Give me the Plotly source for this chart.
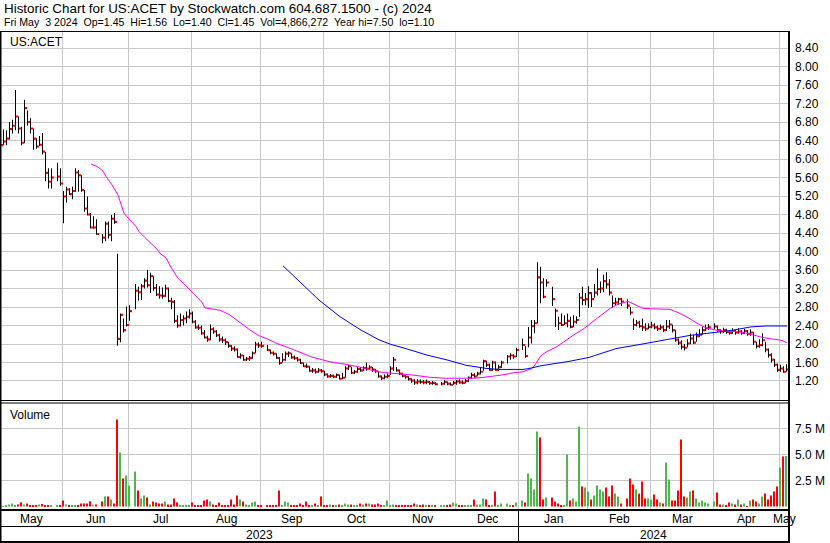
import pandas as pd
import plotly.graph_objects as go

# ---------------- calendar (weekday slots; holidays leave an empty slot) ----------------
weekdays = pd.bdate_range("2023-05-03", "2024-05-03")
holidays = ["2023-05-29", "2023-06-19", "2023-07-04", "2023-09-04", "2023-11-23",
            "2023-12-25", "2024-01-01", "2024-01-15", "2024-02-19", "2024-03-29"]
hol = set(pd.to_datetime(holidays))
trade_days = [d for d in weekdays if d not in hol]
slot = {d: i for i, d in enumerate(weekdays)}

# ---------------- daily data ----------------
high = [
    # May 2023
    6.66, 6.64, 6.62, 6.80, 6.85, 7.49, 6.92, 6.70, 7.28, 7.05, 6.88, 6.66, 6.45, 6.50, 6.56, 6.15, 5.80, 5.80, 5.92, 5.80,
    # Jun
    5.31, 5.40, 5.37, 5.40, 5.80, 5.76, 5.65, 5.33, 5.19, 4.83, 4.76, 4.70, 4.38, 4.65, 4.65, 4.79, 4.83, 3.95, 2.66, 2.55, 2.81,
    # Jul
    2.84, 3.30, 3.24, 3.30, 3.42, 3.60, 3.54, 3.47, 3.30, 3.25, 3.22, 3.28, 3.22, 3.00, 2.95, 2.62, 2.66, 2.62, 2.70, 2.75,
    # Aug
    2.70, 2.52, 2.42, 2.40, 2.30, 2.18, 2.42, 2.36, 2.30, 2.22, 2.16, 2.12, 2.05, 1.98, 1.95, 1.90, 1.80, 1.76, 1.72, 1.74, 1.84, 2.05, 2.03,
    # Sep
    2.05, 1.98, 1.88, 1.84, 1.80, 1.72, 1.80, 1.84, 1.84, 1.80, 1.75, 1.72, 1.68, 1.60, 1.58, 1.52, 1.48, 1.47, 1.48, 1.46,
    # Oct
    1.42, 1.36, 1.35, 1.34, 1.36, 1.34, 1.38, 1.52, 1.55, 1.50, 1.44, 1.50, 1.50, 1.52, 1.60, 1.54, 1.50, 1.46, 1.40, 1.32, 1.34, 1.36,
    # Nov
    1.52, 1.72, 1.50, 1.45, 1.38, 1.34, 1.30, 1.26, 1.24, 1.24, 1.23, 1.22, 1.23, 1.20, 1.20, 1.18, 1.18, 1.22, 1.19, 1.17, 1.20,
    # Dec
    1.22, 1.24, 1.21, 1.24, 1.30, 1.38, 1.37, 1.40, 1.48, 1.66, 1.64, 1.58, 1.64, 1.62, 1.55, 1.64, 1.76, 1.80, 1.78, 1.92,
    # Jan 2024
    2.12, 1.95, 2.37, 2.52, 2.52, 3.77, 3.67, 3.42, 3.40, 3.24, 2.77, 2.59, 2.66, 2.62, 2.66, 2.59, 2.62, 2.60, 3.10, 3.24, 3.10,
    # Feb
    3.25, 3.12, 3.30, 3.64, 3.35, 3.50, 3.55, 3.40, 3.05, 3.00, 3.00, 3.00, 2.97, 2.80, 2.55, 2.52, 2.50, 2.55, 2.45, 2.45,
    # Mar
    2.48, 2.45, 2.40, 2.42, 2.40, 2.52, 2.52, 2.42, 2.30, 2.12, 2.08, 2.00, 2.10, 2.22, 2.20, 2.25, 2.32, 2.38, 2.42, 2.43,
    # Apr
    2.45, 2.40, 2.32, 2.35, 2.33, 2.30, 2.34, 2.31, 2.34, 2.30, 2.33, 2.30, 2.32, 2.26, 2.05, 2.10, 2.23, 2.05, 1.90, 1.80, 1.68, 1.58,
    # May 2024
    1.55, 1.52, 1.56,
]
low = [
    6.19, 6.30, 6.30, 6.42, 6.55, 6.62, 6.55, 6.30, 6.34, 6.72, 6.55, 6.20, 6.22, 6.28, 6.10, 5.52, 5.36, 5.36, 5.52, 5.42,
    4.61, 5.06, 5.22, 5.13, 5.29, 5.29, 5.29, 4.86, 4.78, 4.50, 4.49, 4.36, 4.18, 4.22, 4.28, 4.22, 4.60, 1.96, 2.04, 2.25, 2.38,
    2.50, 2.75, 2.94, 2.95, 3.20, 3.22, 3.10, 3.15, 3.04, 2.98, 2.98, 3.02, 2.90, 2.75, 2.45, 2.35, 2.38, 2.40, 2.45, 2.55,
    2.45, 2.33, 2.30, 2.20, 2.12, 2.05, 2.08, 2.22, 2.15, 2.05, 2.02, 1.98, 1.92, 1.85, 1.84, 1.70, 1.68, 1.64, 1.63, 1.64, 1.68, 1.80, 1.92,
    1.92, 1.85, 1.78, 1.75, 1.68, 1.55, 1.60, 1.64, 1.72, 1.68, 1.66, 1.62, 1.57, 1.50, 1.48, 1.40, 1.38, 1.36, 1.38, 1.38,
    1.30, 1.27, 1.27, 1.26, 1.27, 1.23, 1.24, 1.27, 1.44, 1.35, 1.35, 1.38, 1.40, 1.42, 1.42, 1.44, 1.40, 1.38, 1.27, 1.22, 1.24, 1.26,
    1.33, 1.42, 1.40, 1.33, 1.28, 1.25, 1.21, 1.16, 1.12, 1.13, 1.14, 1.13, 1.13, 1.12, 1.12, 1.11, 1.11, 1.12, 1.11, 1.10, 1.12,
    1.12, 1.14, 1.13, 1.15, 1.18, 1.25, 1.27, 1.30, 1.34, 1.42, 1.50, 1.42, 1.42, 1.42, 1.41, 1.48, 1.58, 1.66, 1.68, 1.72,
    1.87, 1.70, 1.93, 2.01, 2.23, 2.45, 2.88, 2.99, 3.24, 2.82, 2.37, 2.30, 2.39, 2.41, 2.36, 2.34, 2.37, 2.44, 2.59, 2.84, 2.84,
    2.78, 2.80, 3.00, 3.05, 3.10, 3.12, 3.20, 3.05, 2.78, 2.82, 2.85, 2.82, 2.76, 2.62, 2.30, 2.38, 2.35, 2.28, 2.28, 2.32,
    2.34, 2.32, 2.28, 2.30, 2.26, 2.28, 2.33, 2.25, 2.05, 1.98, 1.88, 1.86, 1.93, 2.00, 2.00, 2.05, 2.15, 2.20, 2.28, 2.30,
    2.32, 2.25, 2.22, 2.24, 2.22, 2.20, 2.22, 2.20, 2.22, 2.20, 2.22, 2.18, 2.18, 1.98, 1.90, 1.92, 1.95, 1.82, 1.70, 1.60, 1.50, 1.40,
    1.40, 1.38, 1.40,
]
close = [
    6.30, 6.38, 6.44, 6.65, 6.72, 6.92, 6.66, 6.35, 7.10, 6.80, 6.66, 6.44, 6.27, 6.31, 6.16, 5.70, 5.51, 5.60, 5.62, 5.47,
    5.19, 5.34, 5.24, 5.31, 5.71, 5.65, 5.33, 4.93, 4.80, 4.52, 4.52, 4.38, 4.30, 4.60, 4.36, 4.71, 4.64, 2.11, 2.63, 2.30, 2.41,
    2.71, 3.15, 3.12, 3.25, 3.37, 3.27, 3.47, 3.21, 3.07, 3.05, 3.04, 3.20, 2.93, 2.91, 2.50, 2.40, 2.52, 2.55, 2.59, 2.66,
    2.48, 2.36, 2.35, 2.23, 2.14, 2.10, 2.32, 2.27, 2.19, 2.10, 2.08, 2.04, 1.96, 1.90, 1.88, 1.72, 1.75, 1.66, 1.68, 1.70, 1.80, 1.99, 1.97,
    1.96, 1.87, 1.81, 1.79, 1.70, 1.59, 1.66, 1.79, 1.80, 1.71, 1.69, 1.66, 1.59, 1.52, 1.51, 1.42, 1.43, 1.40, 1.43, 1.41,
    1.34, 1.30, 1.31, 1.29, 1.33, 1.25, 1.27, 1.47, 1.52, 1.38, 1.40, 1.46, 1.43, 1.48, 1.47, 1.49, 1.45, 1.41, 1.30, 1.26, 1.29, 1.31,
    1.47, 1.66, 1.43, 1.36, 1.31, 1.29, 1.24, 1.21, 1.17, 1.19, 1.18, 1.17, 1.18, 1.15, 1.16, 1.13, 1.14, 1.18, 1.14, 1.12, 1.16,
    1.19, 1.17, 1.16, 1.20, 1.27, 1.33, 1.30, 1.36, 1.40, 1.63, 1.55, 1.44, 1.60, 1.44, 1.50, 1.60, 1.73, 1.75, 1.73, 1.87,
    1.98, 1.74, 2.14, 2.39, 2.45, 3.44, 3.33, 3.02, 3.33, 2.97, 2.72, 2.45, 2.41, 2.45, 2.50, 2.37, 2.48, 2.52, 3.00, 2.95, 2.97,
    3.10, 2.97, 3.11, 3.19, 3.20, 3.36, 3.29, 3.11, 2.88, 2.90, 2.97, 2.92, 2.83, 2.68, 2.41, 2.46, 2.39, 2.36, 2.33, 2.37,
    2.40, 2.36, 2.33, 2.36, 2.30, 2.38, 2.42, 2.30, 2.09, 2.03, 1.94, 1.92, 2.01, 2.12, 2.03, 2.17, 2.20, 2.30, 2.34, 2.36,
    2.38, 2.30, 2.27, 2.30, 2.26, 2.24, 2.28, 2.25, 2.27, 2.24, 2.28, 2.22, 2.25, 2.05, 1.95, 1.98, 2.08, 1.88, 1.76, 1.66, 1.55, 1.44,
    1.47, 1.40, 1.45,
]
volume_m = [
    0.03, 0.04, 0.10, 0.20, 0.30, 0.06, 0.20, 0.40, 0.20, 0.30, 0.05, 0.10, 0.10, 0.20, 0.25, 0.10, 0.10, 0.10, 0.10, 0.05,
    0.58, 0.20, 0.10, 0.10, 0.05, 0.10, 0.30, 0.30, 0.30, 0.50, 0.20, 0.20, 0.48, 0.96, 0.96, 0.67, 0.29, 8.37, 5.19, 2.69, 2.98,
    2.02, 3.37, 1.54, 0.77, 1.06, 0.87, 0.19, 0.48, 0.38, 0.29, 0.29, 0.48, 0.19, 0.19, 0.77, 0.38, 0.10, 0.10, 0.10, 0.10,
    0.38, 0.10, 0.10, 0.05, 0.58, 0.67, 0.48, 0.19, 0.10, 0.38, 0.10, 0.10, 0.10, 0.67, 0.19, 1.06, 0.67, 0.48, 0.19, 0.10, 0.38, 0.48, 0.10,
    0.10, 0.10, 0.05, 0.05, 0.10, 1.54, 0.10, 0.48, 0.38, 0.10, 0.05, 0.05, 0.29, 0.10, 0.48, 0.10, 0.10, 0.30, 0.05, 0.96,
    0.10, 0.05, 0.19, 0.10, 0.05, 0.19, 0.10, 0.29, 0.19, 0.19, 0.10, 0.10, 0.29, 0.19, 0.29, 0.29, 0.19, 0.19, 0.29, 0.10, 0.10, 0.58,
    0.05, 0.19, 0.10, 0.10, 0.05, 0.10, 0.10, 0.10, 0.29, 0.19, 0.05, 0.19, 0.05, 0.05, 0.05, 0.05, 0.05, 0.10, 0.10, 0.19, 0.38,
    0.29, 0.10, 0.10, 0.10, 0.10, 0.10, 0.67, 0.19, 0.19, 0.77, 0.67, 0.10, 0.10, 1.44, 0.05, 0.29, 0.29, 0.10, 0.10, 0.38,
    0.58, 0.38, 3.17, 2.69, 1.63, 7.21, 6.63, 0.67, 0.87, 0.87, 0.48, 0.29, 0.05, 0.10, 5.00, 0.58, 0.77, 0.48, 7.69, 1.92, 1.83,
    1.44, 0.67, 1.06, 2.02, 1.63, 1.44, 1.83, 0.96, 2.02, 1.25, 0.96, 0.29, 0.77, 2.69, 2.12, 1.63, 1.25, 2.40, 0.77, 0.77,
    0.67, 1.15, 0.67, 0.38, 0.29, 4.23, 2.60, 0.58, 0.58, 1.54, 6.44, 0.96, 0.87, 1.44, 1.54, 0.77, 0.38, 0.58, 0.38, 0.29,
    0.48, 1.35, 0.19, 0.19, 0.10, 0.38, 0.29, 0.19, 0.67, 0.19, 0.29, 0.03, 0.58, 0.67, 0.48, 0.29, 0.96, 1.25, 0.67, 1.06, 1.44, 1.92,
    3.75, 4.81, 4.866272,
]

# moving averages (sampled from the drawn lines)
ma_pink_dates = ["2023-06-14", "2023-06-16", "2023-06-20", "2023-06-21", "2023-06-23", "2023-06-27", "2023-06-29",
                 "2023-06-30", "2023-07-05", "2023-07-06", "2023-07-10", "2023-07-12", "2023-07-14", "2023-07-17",
                 "2023-07-19", "2023-07-21", "2023-07-25", "2023-07-27", "2023-07-31", "2023-08-02", "2023-08-04",
                 "2023-08-07", "2023-08-09", "2023-08-11", "2023-08-14", "2023-08-17", "2023-08-21", "2023-08-24",
                 "2023-08-28", "2023-08-31", "2023-09-05", "2023-09-08", "2023-09-13", "2023-09-18", "2023-09-21",
                 "2023-09-26", "2023-09-29", "2023-10-04", "2023-10-09", "2023-10-12", "2023-10-17", "2023-10-20",
                 "2023-10-25", "2023-10-30", "2023-11-02", "2023-11-07", "2023-11-10", "2023-11-15", "2023-11-20",
                 "2023-11-27", "2023-12-01", "2023-12-06", "2023-12-11", "2023-12-14", "2023-12-19", "2023-12-22",
                 "2023-12-28", "2024-01-02", "2024-01-05", "2024-01-08", "2024-01-10", "2024-01-12", "2024-01-17",
                 "2024-01-22", "2024-01-25", "2024-01-30", "2024-02-02", "2024-02-07", "2024-02-12", "2024-02-15",
                 "2024-02-20", "2024-02-23", "2024-02-27", "2024-03-01", "2024-03-06", "2024-03-11", "2024-03-14",
                 "2024-03-19", "2024-03-22", "2024-03-27", "2024-04-02", "2024-04-05", "2024-04-10", "2024-04-15",
                 "2024-04-18", "2024-04-23", "2024-04-26", "2024-05-01", "2024-05-03"]
ma_pink = [5.89, 5.84, 5.74, 5.62, 5.44, 5.22, 4.83,
           4.75, 4.54, 4.43, 4.30, 4.18, 4.05, 3.96,
           3.86, 3.62, 3.42, 3.30, 3.17, 3.05, 2.90,
           2.78, 2.76, 2.75, 2.73, 2.64, 2.55, 2.40,
           2.30, 2.18, 2.10, 2.01, 1.94, 1.86, 1.79,
           1.71, 1.66, 1.61, 1.58, 1.55, 1.51, 1.46,
           1.41, 1.38, 1.37, 1.35, 1.33, 1.30, 1.28,
           1.26, 1.26, 1.26, 1.26, 1.28, 1.30, 1.33,
           1.38, 1.40, 1.47, 1.55, 1.75, 1.84, 1.93,
           2.07, 2.20, 2.32, 2.46, 2.62, 2.77, 2.87,
           2.92, 2.84, 2.77, 2.76, 2.76, 2.75, 2.67,
           2.57, 2.45, 2.35, 2.29, 2.27, 2.27, 2.24,
           2.19, 2.14, 2.11, 2.08, 2.03]
ma_blue_dates = ["2023-09-12", "2023-09-20", "2023-09-28", "2023-10-09", "2023-10-18", "2023-10-26", "2023-11-01",
                 "2023-11-08", "2023-11-17", "2023-11-28", "2023-12-06", "2023-12-15", "2023-12-21", "2024-01-02",
                 "2024-01-04", "2024-01-10", "2024-01-23", "2024-02-01", "2024-02-14", "2024-02-26", "2024-03-08",
                 "2024-03-20", "2024-04-01", "2024-04-09", "2024-04-17", "2024-04-24", "2024-05-03"]
ma_blue = [3.69, 3.31, 2.95, 2.59, 2.30, 2.09, 1.99,
           1.90, 1.76, 1.65, 1.54, 1.47, 1.45, 1.45,
           1.47, 1.53, 1.62, 1.71, 1.90, 1.99, 2.10,
           2.19, 2.25, 2.30, 2.37, 2.39, 2.39]

price_ticks = [1.2 + 0.4 * i for i in range(19)]
vol_ticks_m = [2.5, 5.0, 7.5]
header1 = "Historic Chart for US:ACET by Stockwatch.com 604.687.1500 - (c) 2024"
header2 = "Fri May  3 2024  Op=1.45  Hi=1.56  Lo=1.40  Cl=1.45  Vol=4,866,272  Year hi=7.50  lo=1.10"

n = len(trade_days)
assert len(high) == n and len(low) == n and len(close) == n and len(volume_m) == n

# ---------------- geometry helpers ----------------
W, H = 830, 543
PLOT_R = 789


def fx(p):
    return p / W


def fy(p):
    return 1 - p / H


FONT = "Liberation Sans, Arial, sans-serif"
GRID = "#C8C8C8"
xk = [slot[d] for d in trade_days]
XR = [-1 / 3, 262 + 2 / 3]

TICK = 0.045
vol_colors = []
for i, c in enumerate(close):
    if i == 0 or c > close[i - 1]:
        vol_colors.append("#4CB84C")
    elif c < close[i - 1]:
        vol_colors.append("#FF0000")
    else:
        vol_colors.append("#A0A0A0")

fig = go.Figure()
fig.add_trace(go.Bar(x=xk, y=[h - l for h, l in zip(high, low)], base=low,
                     width=1 / 3 - 0.02, offset=-1 / 3 + 0.01,
                     marker=dict(color="black", line=dict(width=0)),
                     xaxis="x", yaxis="y", hoverinfo="skip"))
fig.add_trace(go.Bar(x=xk, y=[TICK] * n, base=[c - TICK / 2 for c in close],
                     width=2 / 3 - 0.02, offset=0.01,
                     marker=dict(color="#FF0000", line=dict(width=0)),
                     xaxis="x", yaxis="y", hoverinfo="skip"))
fig.add_trace(go.Scatter(x=[slot[pd.Timestamp(d)] for d in ma_pink_dates], y=ma_pink, mode="lines",
                         line=dict(color="#FF00FF", width=1), xaxis="x", yaxis="y", hoverinfo="skip"))
fig.add_trace(go.Scatter(x=[slot[pd.Timestamp(d)] for d in ma_blue_dates], y=ma_blue, mode="lines",
                         line=dict(color="#0000FF", width=1), xaxis="x", yaxis="y", hoverinfo="skip"))
fig.add_trace(go.Bar(x=xk, y=[v * 1e6 for v in volume_m],
                     width=2 / 3 - 0.02, offset=-2 / 3 + 0.01,
                     marker=dict(color=vol_colors, line=dict(width=0)),
                     xaxis="x2", yaxis="y2", hoverinfo="skip"))

# month boundaries
months = []
for d in weekdays:
    key = (d.year, d.month)
    if not months or months[-1][0] != key:
        months.append((key, slot[d], d))
bounds = [m[1] - 0.5 for m in months[1:]]

common_x = dict(range=XR, tickmode="array", tickvals=bounds, showticklabels=False, ticks="",
                showgrid=True, gridcolor=GRID, gridwidth=1, zeroline=False, showline=False,
                fixedrange=True, automargin=False)

fig.update_layout(
    template="none",
    width=W, height=H, margin=dict(l=0, r=0, t=0, b=0, pad=0, autoexpand=False),
    paper_bgcolor="white", plot_bgcolor="white", showlegend=False,
    barmode="overlay", bargap=0.2,
    font=dict(family=FONT, size=12, color="black"),
    xaxis=dict(domain=[0, fx(PLOT_R)], anchor="y", **common_x),
    xaxis2=dict(domain=[0, fx(PLOT_R)], anchor="y2", matches="x", **common_x),
    yaxis=dict(domain=[fy(400), fy(31)], range=[0.789, 8.768], side="right",
               tickmode="array", tickvals=price_ticks, ticktext=[f"{v:.2f}" for v in price_ticks],
               showgrid=True, gridcolor=GRID, gridwidth=1, zeroline=False, ticks="", showline=False,
               ticklabelstandoff=5, tickfont=dict(family=FONT, size=12, color="black"),
               fixedrange=True, automargin=False),
    yaxis2=dict(domain=[fy(509), fy(403)], range=[-0.24e6, 9.952e6], side="right",
                tickmode="array", tickvals=[v * 1e6 for v in vol_ticks_m],
                ticktext=[f"{v:.1f} M" for v in vol_ticks_m],
                showgrid=True, gridcolor=GRID, gridwidth=1, zeroline=False, ticks="", showline=False,
                ticklabelstandoff=5, tickfont=dict(family=FONT, size=12, color="black"),
                fixedrange=True, automargin=False),
)

shapes = []


def hline(ypx, x0, x1, w=1):
    shapes.append(dict(type="line", xref="paper", yref="paper", x0=fx(x0), x1=fx(x1), y0=fy(ypx), y1=fy(ypx),
                       line=dict(color="black", width=w)))


def vline(xpx, y0, y1, w=1):
    shapes.append(dict(type="line", xref="paper", yref="paper", x0=fx(xpx), x1=fx(xpx), y0=fy(y0), y1=fy(y1),
                       line=dict(color="black", width=w)))


hline(31.5, 0, PLOT_R)
hline(400.5, 0, PLOT_R)
hline(403, 0, PLOT_R)
hline(510, 0, PLOT_R, 2)
hline(526.5, 0, PLOT_R)
hline(542, 0, PLOT_R, 2)
vline(0.5, 31, H, 2)
vline(PLOT_R, 31, H, 2)
jan_bound = [m[1] for m in months if m[0] == (2024, 1)][0] - 0.5
jan_px = (jan_bound - XR[0]) / (XR[1] - XR[0]) * PLOT_R
vline(jan_px, 510, H, 1)
fig.update_layout(shapes=shapes)

ann = []


def sp(t):
    return t.replace("  ", "\u00a0 ")


ann.append(dict(text=sp(header1), x=fx(2), y=fy(8.5), xref="paper", yref="paper", xanchor="left", yanchor="middle",
                showarrow=False, font=dict(family=FONT, size=13.4, color="black")))
ann.append(dict(text=sp(header2), x=fx(2), y=fy(22.5), xref="paper", yref="paper", xanchor="left", yanchor="middle",
                showarrow=False, font=dict(family=FONT, size=10.6, color="black")))
ann.append(dict(text="US:ACET", x=fx(8), y=fy(42.5), xref="paper", yref="paper", xanchor="left", yanchor="middle",
                showarrow=False, font=dict(family=FONT, size=12, color="black")))
ann.append(dict(text="Volume", x=fx(8), y=fy(414.5), xref="paper", yref="paper", xanchor="left", yanchor="middle",
                showarrow=False, font=dict(family=FONT, size=12, color="black")))

edges = [XR[0]] + bounds + [XR[1]]
for i, m in enumerate(months):
    mid = (edges[i] + edges[i + 1]) / 2
    ann.append(dict(text=m[2].strftime("%b"), x=mid, y=fy(518.5), xref="x2", yref="paper",
                    xanchor="center", yanchor="middle", showarrow=False,
                    font=dict(family=FONT, size=12, color="black")))
for yr, a, b in [("2023", XR[0], jan_bound), ("2024", jan_bound, XR[1])]:
    ann.append(dict(text=yr, x=(a + b) / 2, y=fy(534.5), xref="x2", yref="paper",
                    xanchor="center", yanchor="middle", showarrow=False,
                    font=dict(family=FONT, size=12, color="black")))
fig.update_layout(annotations=ann)

fig.write_html("out.html", config={"displayModeBar": False},
               post_script=["document.body.style.margin='0px';document.body.style.overflow='hidden';"])
